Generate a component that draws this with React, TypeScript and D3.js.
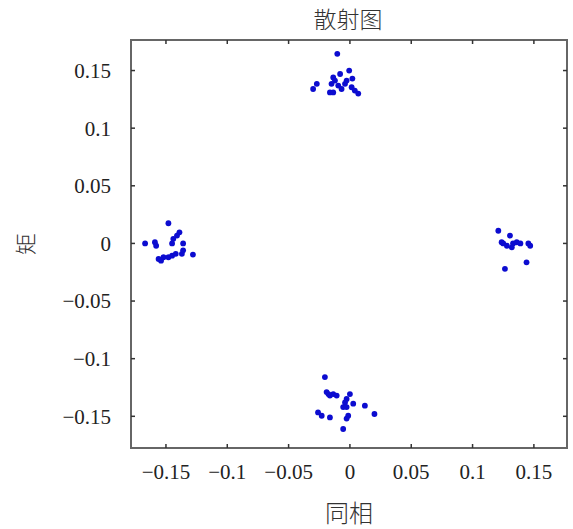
import React from "react";
import * as d3 from "d3";

const xTicks = [-0.15, -0.1, -0.05, 0, 0.05, 0.1, 0.15];
const yTicks = [0.15, 0.1, 0.05, 0, -0.05, -0.1, -0.15];
const tickLabel = (v: number) => (v === 0 ? "0" : (v < 0 ? "\u2212" : "") + String(Math.abs(v)));

const topX = [-0.0103, -0.0006, -0.027, -0.030, -0.0136, -0.0122, -0.015, -0.0163, -0.0095, -0.0068, -0.004, 0.0014, 0.004, 0.0068, -0.0027, -0.0136, -0.008, 0.002];
const topY = [0.1645, 0.150, 0.1385, 0.134, 0.144, 0.1413, 0.1385, 0.131, 0.137, 0.134, 0.1385, 0.1355, 0.1326, 0.130, 0.1413, 0.131, 0.147, 0.143];

const leftX = [-0.148, -0.167, -0.159, -0.158, -0.139, -0.141, -0.144, -0.145, -0.136, -0.136, -0.137, -0.156, -0.152, -0.148, -0.145, -0.142, -0.128, -0.154];
const leftY = [0.0175, 0, 0.001, -0.002, 0.0096, 0.0068, 0.004, 0, 0, -0.006, -0.009, -0.0135, -0.012, -0.012, -0.0106, -0.009, -0.0097, -0.015];

const rightX = [0.121, 0.1305, 0.125, 0.128, 0.133, 0.136, 0.139, 0.1455, 0.147, 0.132, 0.144, 0.1264, 0.1237];
const rightY = [0.011, 0.0068, 0, -0.002, 0, 0.001, 0, 0, -0.002, -0.0034, -0.0164, -0.022, 0.001];

const bottomX = [-0.0204, -0.019, -0.0163, -0.0136, -0.0108, 0, -0.0027, -0.004, -0.0055, -0.0027, 0.0027, 0.0122, 0.020, -0.026, -0.023, -0.0163, -0.0014, -0.0027, -0.0055, -0.0175];
const bottomY = [-0.116, -0.129, -0.132, -0.1307, -0.132, -0.1307, -0.135, -0.138, -0.142, -0.142, -0.139, -0.1408, -0.148, -0.1466, -0.1495, -0.151, -0.1495, -0.152, -0.161, -0.1307];

const W = 573;
const H = 529;
const M = { left: 131, right: 567, top: 40, bottom: 448 };

export default function App() {
  const x = d3.scaleLinear().domain([-0.1785, 0.177]).range([M.left, M.right]);
  const y = d3.scaleLinear().domain([-0.1775, 0.1765]).range([M.bottom, M.top]);

  const pts: [number, number][] = [];
  [[topX, topY], [leftX, leftY], [rightX, rightY], [bottomX, bottomY]].forEach(([xs, ys]) => {
    xs.forEach((v, i) => pts.push([v, ys[i]]));
  });

  const axisColor = "#666";
  const serif = { fontFamily: "Liberation Serif, Times New Roman, Times, serif" };
  const cjk = { fontFamily: "Noto Sans CJK SC, sans-serif", fontWeight: 300 };

  return (
    <svg width={W} height={H} style={{ position: "absolute", left: 0, top: 0, background: "#fff" }}>
      <rect x={0} y={0} width={W} height={H} fill="#fff" />
      {pts.map((p, i) => (
        <circle key={i} cx={x(p[0])} cy={y(p[1])} r={2.9} fill="#0c0cd0" />
      ))}
      <rect x={M.left} y={M.top} width={M.right - M.left} height={M.bottom - M.top} fill="none" stroke={axisColor} strokeWidth={2} />
      {xTicks.map((t) => (
        <g key={"x" + t}>
          <line x1={x(t)} x2={x(t)} y1={M.bottom} y2={M.bottom - 4} stroke="#333" strokeWidth={1.5} />
          <line x1={x(t)} x2={x(t)} y1={M.top} y2={M.top + 4} stroke="#333" strokeWidth={1.5} />
          <text x={x(t)} y={479} textAnchor="middle" style={serif} fontSize={21} fill="#222">
            {tickLabel(t)}
          </text>
        </g>
      ))}
      {yTicks.map((t) => (
        <g key={"y" + t}>
          <line x1={M.left} x2={M.left + 4} y1={y(t)} y2={y(t)} stroke="#333" strokeWidth={1.5} />
          <line x1={M.right} x2={M.right - 4} y1={y(t)} y2={y(t)} stroke="#333" strokeWidth={1.5} />
          <text x={111} y={y(t)} dy="0.35em" textAnchor="end" style={serif} fontSize={21} fill="#222">
            {tickLabel(t)}
          </text>
        </g>
      ))}
      <text x={348} y={28} textAnchor="middle" style={cjk} fontSize={23} fill="#333">散射图</text>
      <text x={349} y={522} textAnchor="middle" style={cjk} fontSize={24} fill="#333">同相</text>
      <text transform="translate(34,244) rotate(-90)" textAnchor="middle" style={cjk} fontSize={22} fill="#333">矩</text>
    </svg>
  );
}
